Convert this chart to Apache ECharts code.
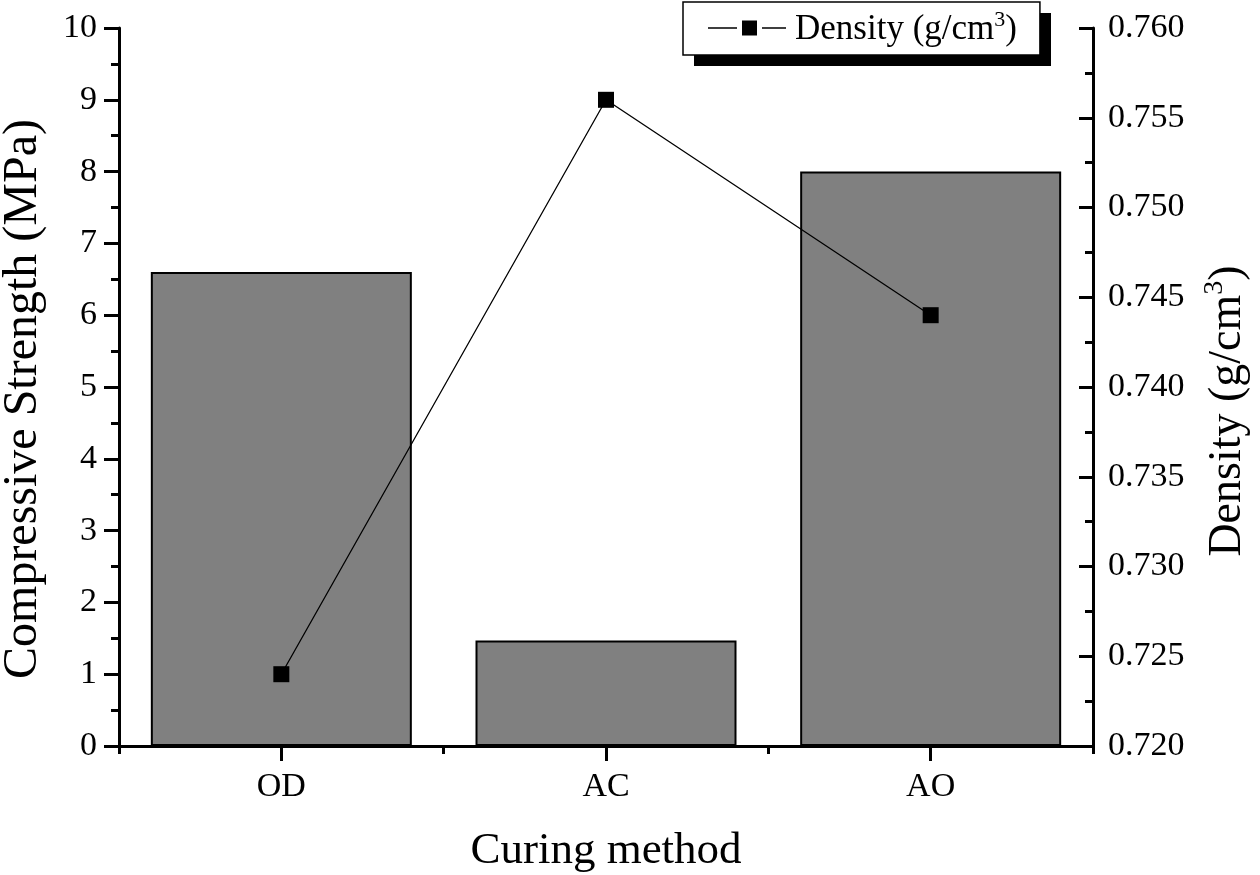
<!DOCTYPE html>
<html>
<head>
<meta charset="utf-8">
<script src="https://cdn.jsdelivr.net/npm/echarts@6/dist/echarts.min.js"></script>
<style>
html,body{margin:0;padding:0;background:#fff;}
#chart{width:1260px;height:875px;}
</style>
</head>
<body>
<div id="chart"></div>
<script>
const categories = ['OD', 'AC', 'AO'];
const strength = [6.6, 1.47, 8.0];
const density = [0.724, 0.756, 0.744];
const strengthTicks = {min: 0, max: 10, interval: 1};
const densityTicks = {min: 0.720, max: 0.760, interval: 0.005};

const FONT = '"Liberation Serif", "Times New Roman", serif';
const chart = echarts.init(document.getElementById('chart'), null, {renderer: 'canvas'});

const legendIcon = 'path://M0,6.7L29,6.7L29,8.3L0,8.3Z M34,0L49,0L49,15L34,15Z M54,6.7L78,6.7L78,8.3L54,8.3Z';

const option = {
  backgroundColor: '#fff',
  animation: false,
  textStyle: {fontFamily: FONT, color: '#000'},
  grid: {left: 119, right: 167, top: 28, bottom: 129, containLabel: false, outerBoundsMode: 'none'},
  graphic: [
    {type: 'rect', z: 0, shape: {x: 694, y: 13, width: 357, height: 53}, style: {fill: '#000'}}
  ],
  legend: {
    data: [{name: 'Density', icon: legendIcon}],
    left: 683, top: 2, z: 10,
    padding: [7, 23, 8, 25],
    itemWidth: 78, itemHeight: 15, itemGap: 0,
    backgroundColor: '#fff',
    borderColor: '#000', borderWidth: 1.5,
    itemStyle: {color: '#000', borderWidth: 0},
    lineStyle: {width: 0},
    formatter: function () { return '{p|}{a|Density (g/cm}{s|3}{a|)}'; },
    textStyle: {
      fontFamily: FONT, color: '#000', fontSize: 35,
      rich: {
        p: {width: 4, lineHeight: 38},
        a: {fontFamily: FONT, fontSize: 35, color: '#000', verticalAlign: 'bottom', lineHeight: 38},
        s: {fontFamily: FONT, fontSize: 22, color: '#000', verticalAlign: 'top', lineHeight: 38, padding: [0, 0, 14, 0]}
      }
    }
  },
  xAxis: [
    {
      type: 'category', data: categories, position: 'bottom',
      name: 'Curing method', nameLocation: 'middle', nameGap: 83,
      nameTextStyle: {fontFamily: FONT, fontSize: 45, color: '#000'},
      axisLine: {show: true, onZero: false, lineStyle: {color: '#000', width: 3}},
      axisTick: {show: true, alignWithLabel: true, length: 15, lineStyle: {color: '#000', width: 3}},
      axisLabel: {fontFamily: FONT, fontSize: 34, color: '#000', margin: 24},
      splitLine: {show: false}
    },
    {
      type: 'category', data: categories, position: 'bottom',
      axisLine: {show: false},
      axisTick: {show: true, alignWithLabel: false, length: 8, lineStyle: {color: '#000', width: 3}},
      axisLabel: {show: false},
      splitLine: {show: false}
    }
  ],
  yAxis: [
    {
      type: 'value', position: 'left',
      min: strengthTicks.min, max: strengthTicks.max, interval: strengthTicks.interval,
      name: 'Compressive Strength (MPa)', nameLocation: 'middle', nameGap: 72, nameRotate: 90,
      nameTextStyle: {fontFamily: FONT, fontSize: 48, color: '#000', padding: [0, 24, 0, 0]},
      axisLine: {show: true, lineStyle: {color: '#000', width: 3}},
      axisTick: {show: true, inside: false, length: 15, lineStyle: {color: '#000', width: 3}},
      minorTick: {show: true, splitNumber: 2, length: 8, lineStyle: {color: '#000', width: 3}},
      axisLabel: {fontFamily: FONT, fontSize: 34, color: '#000', margin: 22},
      splitLine: {show: false}
    },
    {
      type: 'value', position: 'right',
      min: densityTicks.min, max: densityTicks.max, interval: densityTicks.interval,
      name: '{a|Density (g/cm}{s|3}{a|)}', nameLocation: 'middle', nameGap: 108, nameRotate: 90,
      nameTextStyle: {
        fontFamily: FONT, fontSize: 46, color: '#000', padding: [0, 48, 0, 0],
        rich: {
          a: {fontFamily: FONT, fontSize: 46, color: '#000', verticalAlign: 'bottom', lineHeight: 50},
          s: {fontFamily: FONT, fontSize: 28, color: '#000', verticalAlign: 'top', lineHeight: 50, padding: [0, 0, 18, 0]}
        }
      },
      axisLine: {show: true, lineStyle: {color: '#000', width: 3}},
      axisTick: {show: true, inside: true, length: 14, lineStyle: {color: '#000', width: 3}},
      minorTick: {show: true, splitNumber: 2, length: 8, lineStyle: {color: '#000', width: 3}},
      axisLabel: {fontFamily: FONT, fontSize: 34, color: '#000', margin: 15,
        formatter: function (v) { return v.toFixed(3); }},
      splitLine: {show: false}
    }
  ],
  series: [
    {
      name: 'Strength', type: 'bar', xAxisIndex: 0, yAxisIndex: 0,
      data: strength, barWidth: 261,
      itemStyle: {color: '#808080', borderColor: '#000', borderWidth: 2}
    },
    {
      name: 'Density', type: 'line', xAxisIndex: 0, yAxisIndex: 1,
      data: density, symbol: 'rect', symbolSize: 16,
      itemStyle: {color: '#000'},
      lineStyle: {color: '#000', width: 1.3}
    }
  ]
};
chart.setOption(option);
</script>
</body>
</html>
